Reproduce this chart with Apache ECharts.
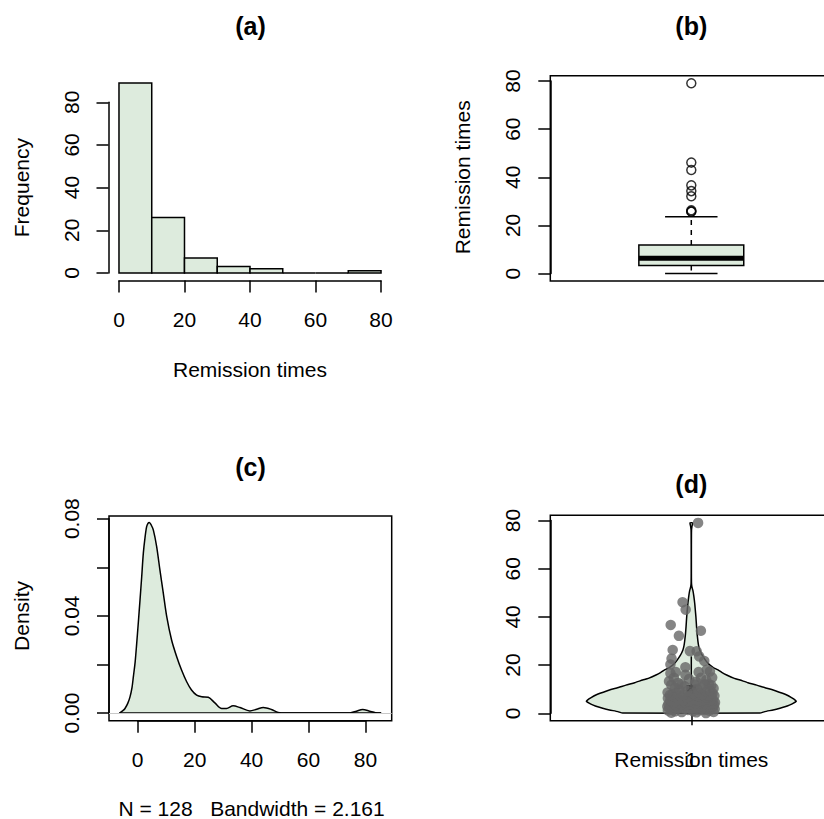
<!DOCTYPE html>
<html><head><meta charset="utf-8">
<script src="https://cdn.jsdelivr.net/npm/echarts@6/dist/echarts.min.js"></script>
<style>html,body{margin:0;padding:0;background:#fff}#c{width:824px;height:819px}</style>
</head><body><div id="c"></div>
<script>
// ---------------- data ----------------
const remission = [
0.08,0.20,0.40,0.50,0.51,0.81,0.90,1.05,1.19,1.26,
1.35,1.40,1.46,1.76,2.02,2.02,2.07,2.09,2.23,2.26,
2.46,2.54,2.62,2.64,2.69,2.69,2.75,2.83,2.87,3.02,
3.25,3.31,3.36,3.36,3.48,3.52,3.57,3.64,3.70,3.82,
3.88,4.18,4.23,4.26,4.33,4.34,4.40,4.50,4.51,4.87,
4.98,5.06,5.09,5.17,5.32,5.32,5.34,5.41,5.41,5.49,
5.62,5.71,5.85,6.25,6.54,6.76,6.93,6.94,6.97,7.09,
7.26,7.28,7.32,7.39,7.59,7.62,7.63,7.66,7.87,7.93,
8.26,8.37,8.53,8.65,8.66,9.02,9.22,9.47,9.74,10.06,
10.34,10.66,10.75,11.25,11.64,11.79,11.98,12.02,12.03,12.07,
12.63,13.11,13.29,13.80,14.24,14.76,14.77,14.83,15.96,16.62,
17.12,17.14,17.36,18.10,19.13,20.28,21.73,22.69,23.63,25.74,
25.82,26.31,32.15,34.26,36.66,43.01,46.12,79.05];
// horizontal jitter of each point in panel (d), axis units
const jitterX = [
0.052,-0.071,0.018,-0.034,0.079,-0.058,0.006,0.064,-0.083,0.029,
-0.012,0.047,-0.066,0.083,-0.025,0.038,-0.049,0.071,0.003,-0.078,
0.058,-0.041,0.022,-0.062,0.076,-0.007,0.043,-0.085,0.013,0.066,
-0.054,0.031,-0.019,0.081,-0.073,0.009,0.055,-0.037,0.068,-0.003,
-0.081,0.026,0.074,-0.046,0.015,-0.064,0.049,-0.022,0.084,-0.069,
0.035,-0.011,0.061,-0.057,0.004,0.078,-0.031,0.041,-0.075,0.019,
0.069,-0.044,0.011,-0.083,0.057,-0.016,0.033,0.072,-0.061,0.024,
-0.038,0.082,-0.005,0.046,-0.076,0.015,0.063,-0.029,0.039,-0.067,
0.007,0.075,-0.052,0.028,-0.084,0.054,-0.014,0.067,-0.043,0.021,
0.079,-0.058,0.036,-0.024,0.071,-0.071,0.012,0.048,-0.035,0.062,
-0.047,0.017,-0.079,0.053,-0.008,0.034,-0.062,0.074,-0.021,-0.074,
-0.055,0.026,0.066,0.055,-0.021,-0.074,0.046,-0.070,0.028,0.019,
-0.005,-0.066,-0.044,0.034,-0.073,-0.020,-0.031,0.024];

const histBreaks = [0,10,20,30,40,50,60,70,80];
const histCounts = [89,26,7,3,2,0,0,1];

const boxStats = [0.08, 3.348, 6.395, 11.84, 23.63]; // lower whisker, Q1, median, Q3, upper whisker
const boxOutliers = [25.74,25.82,26.31,32.15,34.26,36.66,43.01,46.12,79.05];

const densX = [-6.4,-5,-4.46,-3.5,-2.7,-2,-1.53,-0.9,-0.35,0.2,0.81,1.4,1.98,2.6,3.14,3.6,4.08,4.7,5.5,6.66,7.8,9,10.2,11.9,13.7,15.4,17.2,18.9,20.7,22.5,24.8,27.1,29.5,31.2,33.5,35.9,39.4,41.8,44.1,47,49.3,52,60,70,74.5,76.8,79,81.5,83.5,85.5];
const densY = [0,0.0012,0.0019,0.004,0.0067,0.0105,0.0149,0.021,0.0287,0.037,0.0465,0.056,0.0658,0.0725,0.0767,0.0781,0.0784,0.0775,0.0753,0.0685,0.0589,0.0493,0.0397,0.0301,0.0232,0.0177,0.0129,0.0095,0.0074,0.0067,0.0065,0.0042,0.0019,0.0019,0.003,0.0023,0.0009,0.0016,0.0023,0.0015,0.0003,0.00003,0,0,0.0001,0.0008,0.0015,0.0008,0.0002,0];

const violinY = [0.08,0.7,1.4,2.1,2.8,3.4,4.1,5.0,5.5,6.5,7.6,8.3,9.7,10.5,11.7,12.7,13.8,14.5,15.9,17,18,19,20,21,22.1,24,26.3,28,30,33.2,36,40,43,45,47,49,51,52.5,54,58,70,76,77.5,78.5,79.05];
const violinW = [0.654,0.70,0.78,0.845,0.90,0.935,0.97,1.0,0.99,0.955,0.91,0.87,0.78,0.71,0.623,0.54,0.464,0.41,0.337,0.29,0.255,0.21,0.178,0.155,0.135,0.105,0.08,0.07,0.063,0.055,0.05,0.044,0.038,0.034,0.029,0.023,0.015,0.006,0.002,0.001,0.001,0.002,0.006,0.011,0.012];

const densityTickLabels = ['0.00','0.04','0.08'];

// ---------------- layout ----------------
const FONT = '"Liberation Sans", Arial, Helvetica, sans-serif';
const FILL = '#DDEBDD';
const LW = 1.5;
const P = {
  a:{rect:{left:108.5,top:75.5,width:283,height:205},x:[-3.2,83.2],y:[-3.56,92.56],axX:[0,80],axY:[0,80]},
  b:{rect:{left:550.3,top:75.7,width:282,height:205.3},x:[0.5,1.5],y:[-3.08,82.21],axX:[0.5,1.5],axY:[0,80]},
  c:{rect:{left:109,top:516,width:282.7,height:204.7},x:[-10.08,89.21],y:[-0.00312,0.0811],axX:[0,80],axY:[0,0.08]},
  d:{rect:{left:550.3,top:515.3,width:282,height:205.4},x:[0.5,1.5],y:[-3.07,82.2],axX:[0.5,1.5],axY:[0,80]}
};
function axRect(p){
  const sx=p.rect.width/(p.x[1]-p.x[0]), sy=p.rect.height/(p.y[1]-p.y[0]);
  return {left:p.rect.left+(p.axX[0]-p.x[0])*sx, width:(p.axX[1]-p.axX[0])*sx,
          top:p.rect.top+(p.y[1]-p.axY[1])*sy, height:(p.axY[1]-p.axY[0])*sy};
}
const order=['a','b','c','d'];
const grids=[]; const AX={};
order.forEach(k=>{
  const p=P[k]; const r=axRect(p); AX[k]=r;
  grids.push(Object.assign({show:k!=='a',borderColor:'#000',borderWidth:LW,backgroundColor:'transparent',containLabel:false,outerBoundsMode:'none'},p.rect));
  grids.push(Object.assign({show:false,containLabel:false,outerBoundsMode:'none'},r));
});
function xOff(k){const p=P[k],r=AX[k];return (p.rect.top+p.rect.height)-(r.top+r.height);}
function yOff(k){const p=P[k],r=AX[k];return r.left-p.rect.left;}

const txt={fontSize:21,color:'#000',fontFamily:FONT};
function visAxis(extra){
  return Object.assign({
    axisLine:{show:true,onZero:false,lineStyle:{color:'#000',width:LW}},
    axisTick:{show:true,length:12,lineStyle:{color:'#000',width:LW}},
    splitLine:{show:false},
    nameLocation:'middle', nameTextStyle:txt, nameMoveOverlap:false
  },extra);
}
function hidden(gi,range){return {gridIndex:gi,type:'value',min:range[0],max:range[1],show:false,scale:true};}

const xAxes=[
  hidden(0,P.a.x),
  visAxis({gridIndex:1,type:'value',min:0,max:80,interval:20,offset:xOff('a'),
    axisLabel:Object.assign({margin:28,showMinLabel:true,showMaxLabel:true},txt),
    name:'Remission times',nameGap:78}),
  hidden(2,P.b.x),
  {gridIndex:3,type:'value',min:0.5,max:1.5,show:false},
  hidden(4,P.c.x),
  visAxis({gridIndex:5,type:'value',min:0,max:80,interval:20,offset:xOff('c'),
    axisLabel:Object.assign({margin:28,showMinLabel:true,showMaxLabel:true},txt),
    name:'N = 128   Bandwidth = 2.161',nameGap:77}),
  hidden(6,P.d.x),
  visAxis({gridIndex:7,type:'category',data:['1'],boundaryGap:true,offset:xOff('d'),
    axisLine:{show:false},
    axisTick:{show:true,alignWithLabel:true,length:12,lineStyle:{color:'#000',width:LW}},
    axisLabel:Object.assign({margin:28},txt),
    name:'Remission times',nameGap:28})
];
const yLab=Object.assign({margin:27,rotate:90,showMinLabel:true,showMaxLabel:true,hideOverlap:false},txt);
const yAxes=[
  hidden(0,P.a.y),
  visAxis({gridIndex:1,type:'value',min:0,max:80,interval:20,offset:yOff('a'),axisLabel:yLab,
    name:'Frequency',nameRotate:90,nameGap:77}),
  hidden(2,P.b.y),
  visAxis({gridIndex:3,type:'value',min:0,max:80,interval:20,offset:yOff('b'),axisLabel:yLab,
    name:'Remission times',nameRotate:90,nameGap:77}),
  hidden(4,P.c.y),
  visAxis({gridIndex:5,type:'value',min:0,max:0.08,interval:0.02,offset:yOff('c'),
    axisLabel:Object.assign({},yLab,{formatter:v=>{const k=Math.round(v*100);return k%4===0?densityTickLabels[k/4]:'';}}),
    name:'Density',nameRotate:90,nameGap:77}),
  hidden(6,P.d.y),
  visAxis({gridIndex:7,type:'value',min:0,max:80,interval:20,offset:yOff('d'),axisLabel:yLab})
];

const BOXW=0.186, STAPLE=0.093, VW=0.372, VBOX=0.018;

const series=[
  { // histogram
    type:'custom',xAxisIndex:0,yAxisIndex:0,silent:true,
    data:histCounts.map((c,i)=>[histBreaks[i],histBreaks[i+1],c]),
    encode:{x:[0,1],y:2},
    renderItem:(params,api)=>{
      const p0=api.coord([api.value(0),api.value(2)]), p1=api.coord([api.value(1),0]);
      return {type:'rect',shape:{x:p0[0],y:p0[1],width:p1[0]-p0[0],height:p1[1]-p0[1]},
        style:{fill:FILL,stroke:'#000',lineWidth:LW}};
    }
  },
  { // boxplot
    type:'custom',xAxisIndex:2,yAxisIndex:2,silent:true,
    data:[[1].concat(boxStats)],
    encode:{x:0,y:[1,2,3,4,5]},
    renderItem:(params,api)=>{
      const x=api.value(0),lo=api.value(1),q1=api.value(2),md=api.value(3),q3=api.value(4),hi=api.value(5);
      const c=(a,b)=>api.coord([a,b]);
      const seg=(a,b,st)=>({type:'line',shape:{x1:a[0],y1:a[1],x2:b[0],y2:b[1]},style:Object.assign({stroke:'#000',lineWidth:LW},st||{})});
      const bl=c(x-BOXW,q3), br=c(x+BOXW,q1);
      return {type:'group',children:[
        seg(c(x,q3),c(x,hi),{lineDash:[5,5]}),
        seg(c(x,q1),c(x,lo),{lineDash:[5,5]}),
        seg(c(x-STAPLE,hi),c(x+STAPLE,hi)),
        seg(c(x-STAPLE,lo),c(x+STAPLE,lo)),
        {type:'rect',shape:{x:bl[0],y:bl[1],width:br[0]-bl[0],height:br[1]-bl[1]},style:{fill:FILL,stroke:'#000',lineWidth:LW}},
        seg(c(x-BOXW,md),c(x+BOXW,md),{lineWidth:5})
      ]};
    }
  },
  { // outliers
    type:'scatter',xAxisIndex:2,yAxisIndex:2,silent:true,
    data:boxOutliers.map(v=>[1,v]),symbol:'circle',symbolSize:9,
    itemStyle:{color:'rgba(255,255,255,0)',borderColor:'#000',borderWidth:LW}
  },
  { // zero line of density plot
    type:'line',xAxisIndex:4,yAxisIndex:4,silent:true,showSymbol:false,
    data:densX.map((x,i)=>[x,densY[i]]),lineStyle:{opacity:0},
    markLine:{silent:true,symbol:'none',label:{show:false},lineStyle:{color:'#c8c8c8',width:1,type:'solid'},data:[{yAxis:0}]}
  },
  { // density curve
    type:'line',xAxisIndex:4,yAxisIndex:4,silent:true,showSymbol:false,smooth:0.3,
    data:densX.map((x,i)=>[x,densY[i]]),
    lineStyle:{color:'#000',width:LW},
    areaStyle:{color:FILL,opacity:1,origin:'auto'}
  },
  { // polygon base
    type:'line',xAxisIndex:4,yAxisIndex:4,silent:true,showSymbol:false,
    data:[[densX[0],0],[densX[densX.length-1],0]],
    lineStyle:{color:'#000',width:LW}
  },
  { // violin
    type:'custom',xAxisIndex:6,yAxisIndex:6,silent:true,
    data:[[1,boxStats[0]]],encode:{x:0,y:1},
    renderItem:(params,api)=>{
      const x=api.value(0);
      const right=violinY.map((v,i)=>api.coord([x+violinW[i]*VW,v]));
      const left=violinY.map((v,i)=>api.coord([x-violinW[i]*VW,v])).reverse();
      const w0=api.coord([x,boxStats[0]]), w1=api.coord([x,boxStats[4]]);
      const b0=api.coord([x-VBOX,boxStats[3]]), b1=api.coord([x+VBOX,boxStats[1]]);
      return {type:'group',children:[
        {type:'polygon',shape:{points:right.concat(left),smooth:0.15},style:{fill:FILL,stroke:'#000',lineWidth:LW}},
        {type:'line',shape:{x1:w0[0],y1:w0[1],x2:w1[0],y2:w1[1]},style:{stroke:'#000',lineWidth:LW}},
        {type:'rect',shape:{x:b0[0],y:b0[1],width:b1[0]-b0[0],height:b1[1]-b0[1]},style:{fill:'#000'}}
      ]};
    }
  },
  { // jittered points
    type:'scatter',xAxisIndex:6,yAxisIndex:6,silent:true,
    data:remission.map((v,i)=>[1+jitterX[i],v]),symbol:'circle',symbolSize:10.5,
    itemStyle:{color:'#666666'}
  }
];

const titleStyle=(t)=>({text:t,fontSize:25,fontWeight:'bold',fontFamily:FONT,fill:'#000',align:'center',verticalAlign:'middle',textAlign:'center',textVerticalAlign:'middle'});
const graphic=[
  {type:'text',x:250.5,y:26,style:titleStyle('(a)')},
  {type:'text',x:691.3,y:26,style:titleStyle('(b)')},
  {type:'text',x:250.5,y:466.5,style:titleStyle('(c)')},
  {type:'text',x:691.3,y:483.5,style:titleStyle('(d)')}
];

const chart=echarts.init(document.getElementById('c'),null,{renderer:'svg',width:824,height:819});
chart.setOption({animation:false,backgroundColor:'#fff',grid:grids,xAxis:xAxes,yAxis:yAxes,series:series,graphic:graphic});
</script></body></html>
